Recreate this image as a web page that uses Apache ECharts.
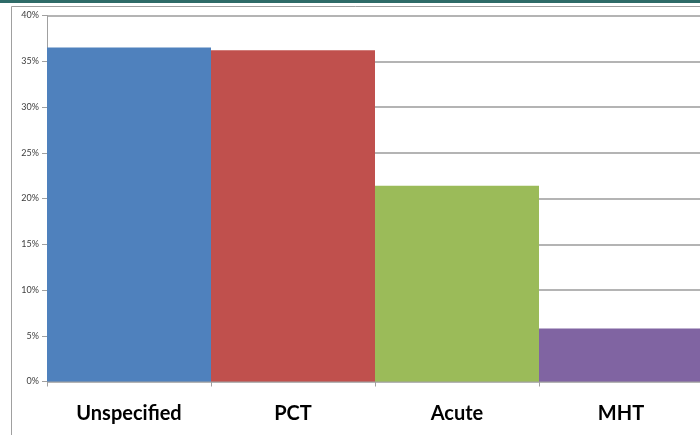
<!DOCTYPE html>
<html>
<head>
<meta charset="utf-8">
<script src="https://cdn.jsdelivr.net/npm/echarts@6/dist/echarts.min.js"></script>
<style>
html,body{margin:0;padding:0;background:#fff;}
#chart{width:700px;height:435px;}
</style>
</head>
<body>
<div id="chart"></div>
<script>
var categories = ['Unspecified', 'PCT', 'Acute', 'MHT'];
var values = [0.365, 0.362, 0.214, 0.058];
var barColors = ['#4f81bd', '#c0504d', '#9bbb59', '#8064a2'];
var yTicks = [0, 0.05, 0.10, 0.15, 0.20, 0.25, 0.30, 0.35, 0.40];

var chart = echarts.init(document.getElementById('chart'), null, {renderer: 'canvas'});
var option = {
  animation: false,
  backgroundColor: '#ffffff',
  graphic: [
    {type: 'rect', shape: {x: 0, y: 0, width: 700, height: 3}, style: {fill: '#2e6b68'}},
    {type: 'line', shape: {x1: 11.5, y1: 6.5, x2: 700, y2: 6.5}, style: {stroke: '#a0a0a0', lineWidth: 1}},
    {type: 'line', shape: {x1: 11.5, y1: 6.5, x2: 11.5, y2: 435}, style: {stroke: '#a0a0a0', lineWidth: 1}}
  ],
  grid: {left: 47, width: 656, top: 15.5, height: 366, containLabel: false, outerBoundsMode: 'none'},
  xAxis: {
    type: 'category',
    data: categories,
    boundaryGap: true,
    axisLine: {lineStyle: {color: '#a0a0a0', width: 1}},
    axisTick: {show: true, length: 5, alignWithLabel: false, lineStyle: {color: '#a0a0a0'}},
    axisLabel: {
      margin: 22,
      fontFamily: 'Lato, "Open Sans", sans-serif',
      fontWeight: 'bold',
      fontSize: 20,
      color: '#000000'
    }
  },
  yAxis: {
    type: 'value',
    min: 0,
    max: 0.40,
    interval: 0.05,
    axisLine: {show: true, lineStyle: {color: '#a0a0a0', width: 1}},
    axisTick: {show: true, length: 5, lineStyle: {color: '#a0a0a0'}},
    splitLine: {show: true, lineStyle: {color: '#b4b4b4', width: 2}},
    axisLabel: {
      margin: 8,
      fontFamily: 'Lato, "Open Sans", sans-serif',
      fontSize: 9,
      color: '#404040',
      formatter: function (v) { return Math.round(v * 100) + '%'; }
    }
  },
  series: [{
    type: 'bar',
    data: values.map(function (v, i) { return {value: v, itemStyle: {color: barColors[i]}}; }),
    barCategoryGap: '0%',
    barGap: '0%'
  }]
};
chart.setOption(option);
</script>
</body>
</html>
